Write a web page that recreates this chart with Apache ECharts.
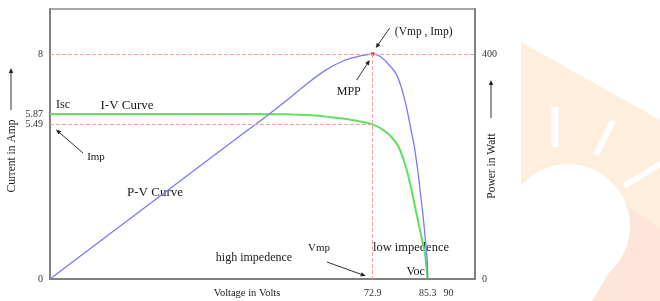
<!DOCTYPE html>
<html>
<head>
<meta charset="utf-8">
<script src="https://cdn.jsdelivr.net/npm/echarts@6/dist/echarts.min.js"></script>
<style>
  html, body { margin: 0; padding: 0; background: #fff; }
  #chart { width: 660px; height: 301px; }
</style>
</head>
<body>
<div id="chart"></div>
<script>
// I-V curve (volts, amps)
const ivVolts = [0, 20, 43.7, 53.2, 59.2, 63.5, 67.6, 71.0, 72.9, 74.9, 76.8, 78.7, 80.2, 81.4, 82.6, 83.8, 84.7, 85.3]
const ivAmps = [5.87, 5.87, 5.87, 5.86, 5.82, 5.75, 5.67, 5.57, 5.49, 5.34, 5.10, 4.71, 4.08, 3.35, 2.46, 1.57, 0.89, 0]

// P-V curve (volts, watts)
const pvVolts = [0, 20.9, 43.7, 48.5, 53.2, 57.7, 62.0, 66.3, 70.3, 72.9, 74.5, 76.2, 78.1, 79.3, 80.5, 81.4, 82.3, 83.0, 83.5, 84.2, 84.8, 85.2, 85.3]
const pvWatts = [0, 124, 259, 287, 316, 345, 370, 388, 397, 400, 396, 384, 366, 342, 306, 271, 235, 197, 164, 117, 69, 34, 0]

// marked points
const vmp = 72.9
const voc = 85.3
const isc = 5.87
const imp = 5.49
const pmp = 400

// tick labels
const voltTicks = [72.9, 85.3, 90]
const ampTicks = [0, 5.49, 5.87, 8]
const wattTicks = [0, 400]

const serif = '"Liberation Serif", "DejaVu Serif", serif'
const refLine = { color: '#f5a0a0', width: 1, type: [4, 2] }
const ink = '#1a1a1a'

const chart = echarts.init(document.getElementById('chart'))

const tickLabel = (vals) => ({
  customValues: vals,
  color: '#333',
  fontSize: 10,
  fontFamily: serif,
  margin: 7,
  formatter: (v) => String(v)
})

chart.setOption({
  animation: false,
  backgroundColor: '#fff',
  grid: {
    left: 50, top: 9, width: 425, height: 270,
    show: true, borderColor: '#8c8c8c', borderWidth: 1.5
  },
  xAxis: {
    type: 'value', min: 0, max: 96,
    axisLine: { show: true, onZero: false, lineStyle: { color: '#808080', width: 2 } },
    axisTick: { show: false },
    splitLine: { show: false },
    axisLabel: { ...tickLabel(voltTicks), margin: 9 }
  },
  yAxis: [
    {
      type: 'value', min: 0, max: 9.6,
      axisLine: { show: true, onZero: false, lineStyle: { color: '#808080', width: 2 } },
      axisTick: { show: false },
      splitLine: { show: false },
      axisLabel: tickLabel(ampTicks)
    },
    {
      type: 'value', min: 0, max: 480, position: 'right',
      axisLine: { show: true, onZero: false, lineStyle: { color: '#808080', width: 2 } },
      axisTick: { show: false },
      splitLine: { show: false },
      axisLabel: tickLabel(wattTicks)
    }
  ],
  series: [
    {
      name: 'I-V Curve',
      type: 'line',
      yAxisIndex: 0,
      data: ivVolts.map((v, i) => [v, ivAmps[i]]),
      smooth: 0.25,
      showSymbol: false,
      lineStyle: { color: '#5fe05f', width: 2 },
      z: 3,
      markLine: {
        silent: true, symbol: 'none', label: { show: false },
        lineStyle: refLine,
        data: [[{ coord: [0, imp] }, { coord: [vmp, imp] }]]
      }
    },
    {
      name: 'P-V Curve',
      type: 'line',
      yAxisIndex: 1,
      data: pvVolts.map((v, i) => [v, pvWatts[i]]),
      smooth: 0.25,
      showSymbol: false,
      lineStyle: { color: '#7a7af2', width: 1.3 },
      z: 3,
      markLine: {
        silent: true, symbol: 'none', label: { show: false },
        lineStyle: refLine,
        data: [
          { yAxis: pmp },
          [{ coord: [vmp, pmp] }, { coord: [vmp, 0] }]
        ]
      }
    },
    {
      name: 'MPP',
      type: 'scatter',
      yAxisIndex: 1,
      data: [[vmp, pmp]],
      symbolSize: 4,
      itemStyle: { color: '#e52020' },
      z: 4
    }
  ]
})

// annotations, placed from the axes
const px = (v, y, yi) => chart.convertToPixel({ xAxisIndex: 0, yAxisIndex: yi }, [v, y])
const mpp = px(vmp, pmp, 1)
const impPt = px(0, imp, 0)
const vocPt = px(voc, 0, 0)

function text(str, x, y, size, extra) {
  return Object.assign({
    type: 'text', x, y,
    style: { text: str, fontSize: size, fontFamily: serif, fill: ink, align: 'center', verticalAlign: 'middle' }
  }, extra || {})
}

function arrow(x1, y1, x2, y2) {
  const a = Math.atan2(y2 - y1, x2 - x1)
  const h = 5, w = 2.2
  const bx = x2 - h * Math.cos(a), by = y2 - h * Math.sin(a)
  return [
    { type: 'line', shape: { x1, y1, x2: bx, y2: by }, style: { stroke: '#333', lineWidth: 1 } },
    {
      type: 'polygon',
      shape: { points: [[x2, y2], [bx - w * Math.sin(a), by + w * Math.cos(a)], [bx + w * Math.sin(a), by - w * Math.cos(a)]] },
      style: { fill: '#222' }
    }
  ]
}

// faint sun watermark on the right
const watermark = [
  { type: 'polygon', shape: { points: [[521, 42], [660, 120], [660, 301], [521, 301]] }, style: { fill: '#fdeedd' }, z: -10 },
  { type: 'polygon', shape: { points: [[626, 205], [660, 228], [660, 301], [592, 301]] }, style: { fill: '#fde5d9' }, z: -9 },
  { type: 'circle', shape: { cx: 568, cy: 226, r: 62 }, style: { fill: '#fff' }, z: -8 },
  { type: 'polygon', shape: { points: [[521, 258], [618, 258], [592, 301], [521, 301]] }, style: { fill: '#fff' }, z: -8 },
  { type: 'line', shape: { x1: 555, y1: 107, x2: 555, y2: 147 }, style: { stroke: '#fff', lineWidth: 7 }, z: -8 },
  { type: 'line', shape: { x1: 613, y1: 121, x2: 596, y2: 155 }, style: { stroke: '#fff', lineWidth: 6 }, z: -8 },
  { type: 'line', shape: { x1: 662, y1: 163, x2: 624, y2: 186 }, style: { stroke: '#fff', lineWidth: 6 }, z: -8 }
]

chart.setOption({
  graphic: [
    ...watermark,
    text('Isc', 63, 105, 12),
    text('I-V Curve', 127, 106, 13),
    text('Imp', 96, 157, 11),
    ...arrow(83, 153, 56, impPt[1] + 5),
    text('P-V Curve', 155, 193, 13),
    text('high impedence', 254, 258, 12),
    text('Vmp', 319, 248, 11),
    ...arrow(327, 262, mpp[0] - 7, 276),
    text('low impedence', 411, 248, 12.5),
    text('Voc', vocPt[0] - 12, 272, 12),
    text('(Vmp , Imp)', mpp[0] + 51, 32, 11.5),
    ...arrow(mpp[0] + 17, 28, mpp[0] + 3, 48),
    text('MPP', mpp[0] - 24, 92, 12),
    ...arrow(mpp[0] - 16, 80, mpp[0] - 3, 60),
    text('Voltage in Volts', 247, 293, 10.5),
    text('Current in Amp', 12, 156, 11.5, { rotation: Math.PI / 2 }),
    ...arrow(11, 110, 11, 68),
    text('Power in Watt', 492, 166, 11.5, { rotation: Math.PI / 2 }),
    ...arrow(491, 118, 491, 80)
  ]
})

window.addEventListener('resize', () => chart.resize())
</script>
</body>
</html>
